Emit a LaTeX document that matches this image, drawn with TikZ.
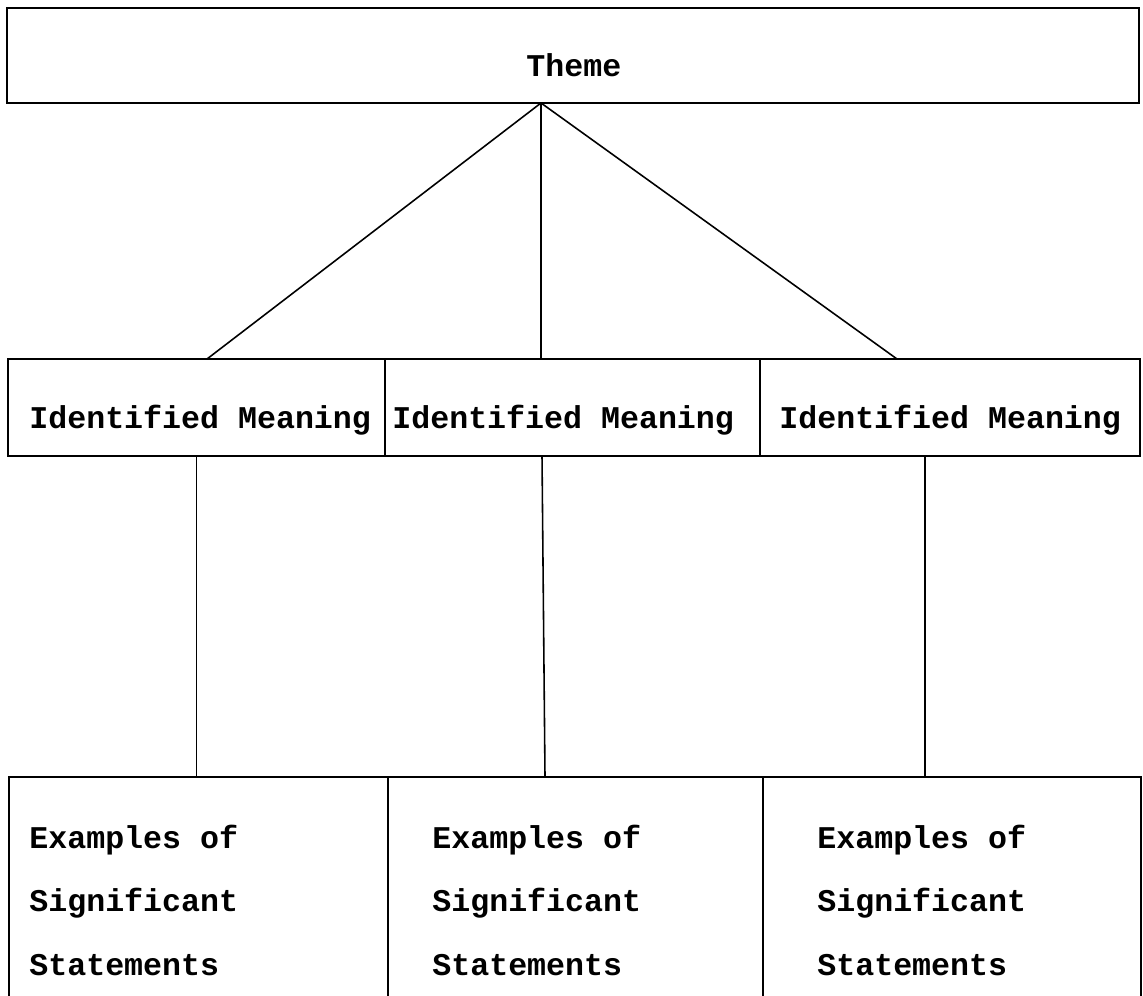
\documentclass[tikz,border=0pt]{standalone}
\usepackage{fontspec}
\setmonofont{Liberation Mono}

\begin{document}
\begin{tikzpicture}[x=0.02cm,y=-0.02cm,
    box/.style={rectangle,draw,line width=0.9pt,inner sep=0pt,outer sep=0pt},
    lbl/.style={inner sep=0pt,font=\ttfamily\bfseries\fontsize{18}{36}\selectfont},
    link/.style={line width=0.9pt}]
  \useasboundingbox (0,0) rectangle (1143,996);
  % boxes
  \node[box,line width=1.3pt,minimum width=22.64cm,minimum height=1.9cm] (theme) at (573,55.5) {};
  \node[box,minimum width=7.54cm,minimum height=1.94cm] (m1) at (196.5,407.5) {};
  \node[box,minimum width=7.50cm,minimum height=1.94cm] (m2) at (572.5,407.5) {};
  \node[box,minimum width=7.60cm,minimum height=1.94cm] (m3) at (950,407.5) {};
  \node[box,minimum width=7.58cm,minimum height=4.66cm] (b1) at (198.5,893.5) {};
  \node[box,minimum width=7.50cm,minimum height=4.66cm] (b2) at (575.5,893.5) {};
  \node[box,minimum width=7.56cm,minimum height=4.66cm] (b3) at (952,893.5) {};
  % texts
  \node[lbl,anchor=base west] (themetxt) at (526,77) {Theme};
  \node[lbl,anchor=base west] (m1txt) at (29,429) {Identified Meaning};
  \node[lbl,anchor=base west] (m2txt) at (392,429) {Identified Meaning};
  \node[lbl,anchor=base west] (m3txt) at (779,429) {Identified Meaning};
  \node[lbl,anchor=north west,align=left] (b1txt) at (29,825) {Examples of\\Significant\\Statements};
  \node[lbl,anchor=north west,align=left] (b2txt) at (432,825) {Examples of\\Significant\\Statements};
  \node[lbl,anchor=north west,align=left] (b3txt) at (817,825) {Examples of\\Significant\\Statements};
  % connectors
  \draw[link] ([xshift=-0.64cm]theme.south) -- ([xshift=0.21cm]m1.north);
  \draw[link] ([xshift=-0.64cm]theme.south) -- ([xshift=-0.63cm]m2.north);
  \draw[link] ([xshift=-0.64cm]theme.south) -- ([xshift=-1.06cm]m3.north);
  \draw[link] (m1.south) -- (m1.south |- b1.north);
  \draw[link] ([xshift=-0.61cm]m2.south) -- ([xshift=-0.61cm]b2.north);
  \draw[link] ([xshift=-0.5cm]m3.south) -- ([xshift=-0.54cm]b3.north);
\end{tikzpicture}
\end{document}
